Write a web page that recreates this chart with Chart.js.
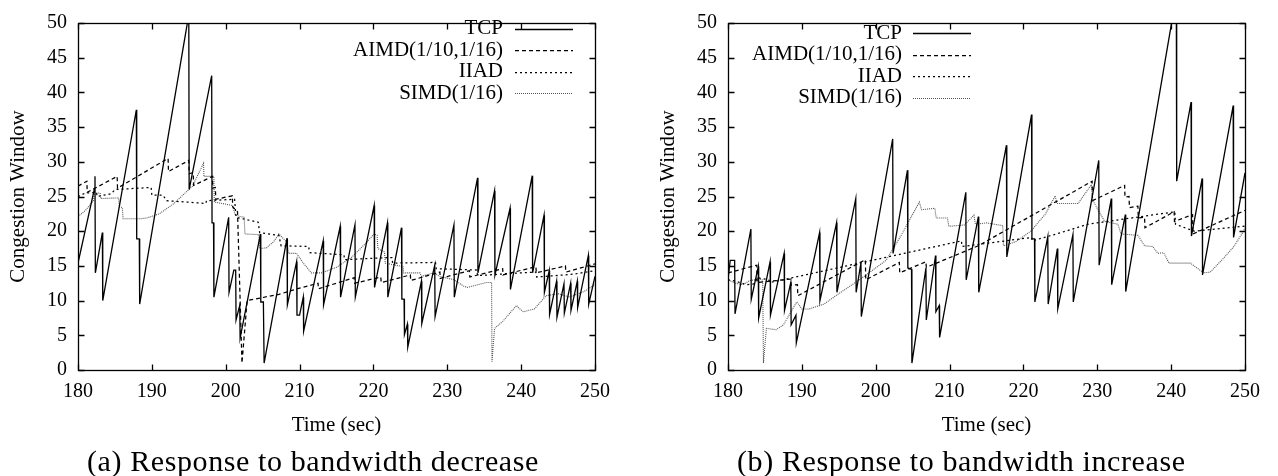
<!DOCTYPE html>
<html><head><meta charset="utf-8">
<script src="https://cdn.jsdelivr.net/npm/chart.js@4.4.0/dist/chart.umd.min.js"></script>
<style>
html,body{margin:0;padding:0;background:#fff;width:1278px;height:476px;overflow:hidden}
.wrap{position:absolute;top:0;width:620px;height:476px}
.cap{position:absolute;top:444px;font-family:"Liberation Serif",serif;font-size:30px;letter-spacing:0.6px;white-space:nowrap;color:#000;line-height:34px}
</style></head><body>
<div class="wrap" style="left:0"><canvas id="cA" width="620" height="476"></canvas></div>
<div class="wrap" style="left:650px"><canvas id="cB" width="620" height="476"></canvas></div>
<div class="cap" style="left:87px">(a) Response to bandwidth decrease</div>
<div class="cap" style="left:737px">(b) Response to bandwidth increase</div>
<script>
const xTicks = [180,190,200,210,220,230,240,250];
const yTicks = [0,5,10,15,20,25,30,35,40,45,50];
const seriesNames = ['TCP','AIMD(1/10,1/16)','IIAD','SIMD(1/16)'];
const xTitle = 'Time (sec)';
const yTitle = 'Congestion Window';

// (a) bandwidth decrease
const tcpDecrease = [[180,15.4],[182.2,26.0],[182.3,27.9],[182.35,14.0],[183.3,19.8],[183.35,10.0],[187.9,37.5],[187.95,18.9],[188.3,18.9],[188.35,9.5],[195.0,51.2],[195.05,26.0],[198.1,42.4],[198.15,21.2],[198.35,21.2],[198.4,10.5],[200.4,22.0],[200.45,11.2],[201.1,14.4],[201.35,14.4],[201.4,7.2],[201.9,9.3],[201.95,4.6],[204.7,19.6],[204.75,9.8],[205.1,9.8],[205.2,1.0],[208.3,19.0],[208.35,9.4],[209.6,15.6],[209.65,7.9],[210.0,7.9],[210.5,10.5],[210.55,5.6],[213.2,18.6],[213.25,9.4],[215.5,20.7],[215.55,10.5],[217.5,20.9],[217.55,10.5],[220.1,23.7],[220.15,11.9],[221.9,21.2],[221.95,10.5],[223.8,20.5],[223.85,10.2],[224.15,10.2],[224.2,5.1],[224.6,6.6],[224.65,3.3],[226.5,12.8],[226.55,6.7],[228.3,15.1],[228.35,7.7],[230.9,20.9],[230.95,10.5],[234.1,27.7],[234.15,14.0],[236.4,25.8],[236.45,13.7],[238.5,23.3],[238.55,11.6],[241.5,28.0],[241.55,14.0],[243.1,22.3],[243.15,11.2],[243.8,14.3],[243.85,8.0],[244.8,12.8],[244.85,7.6],[245.8,12.4],[245.85,8.2],[246.7,12.5],[246.75,8.6],[247.6,12.8],[247.65,9.0],[249.1,16.5],[249.15,9.5],[250,13.5]];
const aimdDecrease = [[180,26.5],[181.2,27.2],[181.25,25.6],[185.3,27.9],[185.35,26.2],[192.2,30.5],[192.25,28.6],[195.0,30.2],[195.05,28.3],[195.6,28.4],[195.65,26.6],[198.2,27.9],[198.25,26.2],[198.6,26.3],[198.65,24.6],[200.9,25.1],[200.95,23.5],[201.6,22.8],[202.2,1.0],[202.9,10.0],[207.2,10.9],[210.0,11.8],[212.5,12.5],[212.55,11.7],[217.4,13.3],[217.45,12.5],[221.0,13.4],[221.05,12.6],[225.0,13.7],[225.05,12.9],[229.0,14.1],[229.05,13.2],[233.0,14.3],[233.05,13.4],[237.5,14.6],[237.55,13.7],[242.0,14.9],[242.05,14.0],[246.0,15.0],[246.05,14.1],[250,15.3]];
const iiadDecrease = [[180,25.0],[181,25.5],[182.5,25.6],[182.6,25.0],[184.5,25.4],[185,26.0],[189.9,26.3],[190,25.2],[191.5,25.2],[192,24.4],[197.3,24.0],[197.4,24.4],[201.2,24.6],[201.4,22.0],[204.4,21.3],[204.6,19.8],[207.2,19.4],[207.5,17.9],[211.2,17.8],[211.4,16.9],[213,16.8],[216,16.6],[216.1,15.9],[220,16.1],[222.5,16.2],[222.6,15.4],[228.4,15.5],[228.5,14.6],[234,14.4],[234.1,13.6],[240,14.0],[242,14.1],[242.1,13.4],[247,13.8],[250,14.3]];
const simdDecrease = [[180,22.1],[181,23.0],[182.1,24.4],[182.2,25.5],[183,25.5],[183.1,24.7],[185.5,24.8],[185.6,23.5],[186,23.4],[186.1,21.8],[188.5,21.8],[189.3,21.9],[191,22.5],[193,24.0],[195.5,26.5],[197,29.8],[197.05,27.9],[198.4,27.9],[198.45,24.2],[199.5,24.0],[200.9,23.7],[201.3,22.3],[202.5,22.0],[202.6,19.6],[204.5,19.5],[204.6,17.5],[205.5,17.6],[206.5,18.5],[207.2,19.6],[208.3,18.4],[208.5,16.8],[209.6,16.8],[210.5,15.4],[211.6,14.0],[213,14.0],[215,14.8],[217,16.2],[219,18.3],[220.1,19.6],[220.5,19.4],[220.6,17.5],[221.5,17.0],[221.6,15.4],[224,14.9],[224.1,14.0],[226.3,14.0],[226.5,13.5],[228.2,14.0],[229,13.5],[230.9,13.0],[232.2,12.1],[232.7,11.9],[235.3,12.6],[236.0,12.6],[236.05,1.2],[236.4,6.0],[237.5,7.0],[239.4,9.3],[239.6,9.0],[240.3,8.4],[241.8,8.8],[243.4,10.7],[245,11.0],[246.5,10.5],[248.5,11.3],[250,12.3]];

// (b) bandwidth increase
const tcpIncrease = [[180,13.0],[180.3,15.8],[180.9,15.8],[180.95,8.1],[183.1,20.3],[183.15,10.2],[184.1,14.9],[184.15,7.5],[185.7,15.6],[185.75,7.9],[187.6,16.8],[187.65,8.6],[188.5,12.6],[188.55,6.5],[189.2,7.9],[189.25,3.9],[192.4,19.8],[192.45,10.0],[194.7,21.2],[194.75,11.2],[197.3,24.7],[197.35,11.2],[198.0,15.4],[198.05,7.7],[202.3,33.3],[202.35,16.8],[204.3,28.8],[204.35,14.7],[204.85,14.5],[204.9,1.0],[206.8,14.7],[206.85,7.2],[208.1,16.5],[208.15,8.4],[208.6,9.3],[208.65,4.7],[212.2,25.6],[212.25,13.0],[213.9,22.1],[213.95,11.2],[217.7,32.4],[217.75,16.3],[221.1,36.8],[221.15,18.9],[221.5,18.9],[221.55,9.8],[223.3,19.2],[223.35,9.5],[224.6,17.5],[224.65,8.8],[226.7,19.5],[226.75,9.8],[230.2,30.2],[230.25,15.1],[231.9,24.7],[231.95,12.3],[233.8,22.4],[233.85,11.3],[240.7,54.0],[240.75,27.2],[242.7,38.6],[242.75,19.3],[244.2,27.6],[244.25,13.7],[248.4,38.1],[248.45,19.1],[250,28.4]];
const aimdIncrease = [[180,14.0],[183.9,15.1],[183.95,12.6],[188.5,13.1],[188.55,12.2],[189.4,12.3],[189.45,10.7],[198.6,15.9],[198.65,13.0],[203.2,15.5],[203.25,14.0],[206.8,15.6],[206.85,14.8],[213.9,17.9],[229.3,27.2],[229.35,24.4],[233.7,26.6],[233.75,24.9],[234.3,25.0],[234.35,23.4],[235.5,23.6],[235.55,21.9],[236.4,22.0],[236.45,20.5],[240.4,22.8],[240.45,21.4],[242.9,22.4],[242.95,19.6],[250,23.0]];
const iiadIncrease = [[180,13.0],[181,12.8],[182.5,12.3],[183.5,12.4],[184,13.3],[185.5,13.0],[185.7,12.6],[211.6,18.6],[211.7,17.8],[213.9,18.1],[221.1,19.1],[221.2,18.6],[225.1,19.8],[228.7,21.0],[234.6,21.9],[240.5,22.8],[240.6,21.0],[243.1,20.0],[249.8,20.7],[250,20.8]];
const simdIncrease = [[180,13.0],[181,12.5],[182,12.3],[183,12.9],[184.5,13.1],[184.7,12.9],[184.8,1.0],[185.2,6.0],[186.5,5.8],[187.5,6.5],[189.3,9.8],[189.6,9.4],[190,8.8],[191,8.8],[193,9.5],[195,11.0],[197.8,13.0],[201.4,15.8],[203.5,19.5],[205.9,24.2],[206.2,23.1],[208,23.3],[208.2,21.9],[209.7,21.9],[209.9,20.7],[212,20.9],[213.3,22.3],[213.5,21.0],[215,21.2],[217.2,20.8],[217.3,17.9],[219,18.5],[221,20.0],[223,22.5],[224.3,25.1],[224.5,24.0],[227.4,24.0],[229.2,26.7],[229.4,24.4],[231,21.4],[232.8,21.0],[233.2,19.6],[235.5,19.4],[236.4,17.9],[237.5,17.8],[238.2,16.8],[239,16.9],[239.7,15.4],[242.6,15.4],[244.4,14.0],[245.3,14.1],[247,16.0],[248.5,17.8],[249.8,20.0],[250,20.5]];

const lineStyles = [
  {color:'#000', dash:[], width:1.3},
  {color:'#000', dash:[4,3], width:1.25},
  {color:'#000', dash:[2,3], width:1.25},
  {color:'#555', dash:[1,1], width:1.1}
];
const FONT = 'Liberation Serif';

const framePlugin = {
  id:'frame',
  afterDraw(chart){
    const {ctx, chartArea:a, scales:{x,y}} = chart;
    ctx.save();
    ctx.strokeStyle='#000'; ctx.lineWidth=1.3; ctx.setLineDash([]);
    const L=Math.round(a.left)+0.5, R=Math.round(a.right)+0.5, T=Math.round(a.top)+0.5, B=Math.round(a.bottom)+0.5;
    ctx.strokeRect(L,T,R-L,B-T);
    ctx.beginPath();
    x.ticks.forEach(t=>{const p=Math.round(x.getPixelForValue(t.value))+0.5; ctx.moveTo(p,B); ctx.lineTo(p,B-6); ctx.moveTo(p,T); ctx.lineTo(p,T+6);});
    y.ticks.forEach(t=>{const p=Math.round(y.getPixelForValue(t.value))+0.5; ctx.moveTo(L,p); ctx.lineTo(L+6,p); ctx.moveTo(R,p); ctx.lineTo(R-6,p);});
    ctx.stroke();
    ctx.restore();
  }
};
const keyPlugin = {
  id:'gnuKey',
  afterDraw(chart, args, o){
    const ctx = chart.ctx;
    ctx.save();
    ctx.font = '21px "'+FONT+'"';
    ctx.textAlign='right'; ctx.textBaseline='middle'; ctx.fillStyle='#000';
    chart.data.datasets.forEach((ds,i)=>{
      const yy = o.top + i*o.step;
      ctx.fillText(ds.label, o.textRight, yy);
      ctx.beginPath();
      ctx.setLineDash(ds.borderDash||[]);
      ctx.strokeStyle=ds.borderColor; ctx.lineWidth=ds.borderWidth;
      const ly = Math.round(yy)+0.5;
      ctx.moveTo(o.lineStart, ly); ctx.lineTo(o.lineStart+o.lineLen, ly);
      ctx.stroke();
    });
    ctx.restore();
  }
};

function makeChart(id, seriesList, key, padRight){
  return new Chart(document.getElementById(id), {
    type:'line',
    data:{datasets: seriesList.map((d,i)=>({
      label: seriesNames[i], data: d,
      borderColor: lineStyles[i].color, borderDash: lineStyles[i].dash, borderWidth: lineStyles[i].width,
      pointRadius:0, tension:0, fill:false
    }))},
    options:{
      responsive:false, animation:false, devicePixelRatio:1,
      layout:{padding:{top:12,right:padRight,bottom:36,left:0}},
      plugins:{legend:{display:false}, tooltip:{enabled:false}, gnuKey:key},
      scales:{
        x:{type:'linear', min:180, max:250,
          afterBuildTicks:s=>{s.ticks = xTicks.map(v=>({value:v}));},
          grid:{display:false, drawTicks:false}, border:{display:false},
          ticks:{padding:10, color:'#000', maxRotation:0, autoSkip:false, font:{family:FONT,size:20}},
          title:{display:true, text:xTitle, color:'#000', font:{family:FONT,size:21}, padding:{top:0,bottom:2.4}},
          afterFit:s=>{s.height=70;}
        },
        y:{type:'linear', min:0, max:50,
          afterBuildTicks:s=>{s.ticks = yTicks.map(v=>({value:v}));},
          grid:{display:false, drawTicks:false}, border:{display:false},
          ticks:{padding:11, color:'#000', autoSkip:false, font:{family:FONT,size:20}},
          title:{display:true, text:yTitle, color:'#000', font:{family:FONT,size:21}, padding:{top:6,bottom:0}},
          afterFit:s=>{s.width=78;}
        }
      }
    },
    plugins:[framePlugin, keyPlugin]
  });
}

makeChart('cA', [tcpDecrease, aimdDecrease, iiadDecrease, simdDecrease], {top:28.5, step:21.5, textRight:503, lineStart:515, lineLen:58}, 21);
makeChart('cB', [tcpIncrease, aimdIncrease, iiadIncrease, simdIncrease], {top:33.3, step:21.5, textRight:252, lineStart:263, lineLen:58}, 22);
</script>
</body></html>
